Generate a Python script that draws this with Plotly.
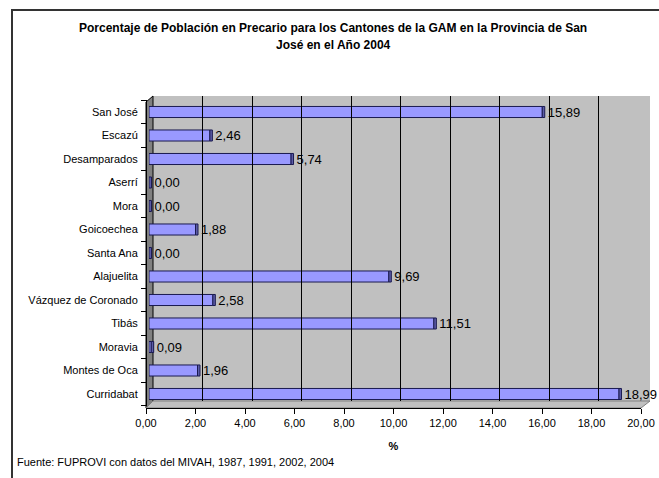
import plotly.graph_objects as go

# Cantones de la GAM, provincia de San José (2004)
cantones = ["San José", "Escazú", "Desamparados", "Aserrí", "Mora", "Goicoechea",
            "Santa Ana", "Alajuelita", "Vázquez de Coronado", "Tibás", "Moravia",
            "Montes de Oca", "Curridabat"]
porcentaje = [15.89, 2.46, 5.74, 0.00, 0.00, 1.88, 0.00, 9.69, 2.58, 11.51, 0.09, 1.96, 18.99]
x_ticks = [0, 2, 4, 6, 8, 10, 12, 14, 16, 18, 20]

W, H = 659, 478
FONT = "Liberation Sans, Arial, sans-serif"
CAP = 0.1  # depth of the bar end face, in axis units


def px(x):
    return x / W


def py(y):
    return 1 - y / H


idx = list(range(len(cantones)))

fig = go.Figure()

# bar front faces
fig.add_trace(go.Bar(
    x=porcentaje, y=idx, orientation="h",
    width=0.47,
    marker=dict(color="#9999FF", line=dict(color="#1a1a50", width=1)),
    hoverinfo="skip", xaxis="x", yaxis="y",
))

# bar end faces, carrying the value labels
fig.add_trace(go.Bar(
    x=[CAP] * len(porcentaje), base=porcentaje, y=idx, orientation="h",
    width=0.47,
    marker=dict(color="#5c5ca8", line=dict(color="#1a1a50", width=1)),
    customdata=porcentaje,
    texttemplate="%{customdata:.2f}", textposition="outside", constraintext="none",
    textfont=dict(family=FONT, size=13, color="#000000"),
    cliponaxis=False, hoverinfo="skip", xaxis="x", yaxis="y",
))

# empty traces so the value axis and the back-wall grid get their own subplots
fig.add_trace(go.Scatter(x=[], y=[], xaxis="x2", yaxis="y2", hoverinfo="skip"))
fig.add_trace(go.Scatter(x=[], y=[], xaxis="x3", yaxis="y3", hoverinfo="skip"))

shapes = [
    # back wall
    dict(type="rect", xref="paper", yref="paper", layer="below",
         x0=px(153), x1=px(650), y0=py(401), y1=py(96),
         fillcolor="#C0C0C0", line=dict(width=0)),
    # side wall
    dict(type="path", xref="paper", yref="paper", layer="below",
         path=f"M {px(146)} {py(102)} L {px(153)} {py(96)} L {px(153)} {py(401)} L {px(146)} {py(408)} Z",
         fillcolor="#808080", line=dict(color="#000000", width=1)),
    # floor
    dict(type="path", xref="paper", yref="paper", layer="below",
         path=f"M {px(146)} {py(408)} L {px(153)} {py(401)} L {px(650)} {py(401)} L {px(641)} {py(408)} Z",
         fillcolor="#C0C0C0", line=dict(color="#808080", width=1)),
    # chart frame (top and left edges)
    dict(type="line", xref="paper", yref="paper",
         x0=px(11), x1=1, y0=py(10), y1=py(10),
         line=dict(color="#333333", width=2)),
    dict(type="line", xref="paper", yref="paper",
         x0=px(12), x1=px(12), y0=py(9), y1=0,
         line=dict(color="#333333", width=2)),
]

fig.update_layout(
    width=W, height=H,
    margin=dict(l=0, r=0, t=0, b=0, pad=0, autoexpand=False),
    paper_bgcolor="#FFFFFF", plot_bgcolor="rgba(0,0,0,0)",
    separators=",.",
    showlegend=False,
    barmode="overlay",
    font=dict(family=FONT, size=11, color="#000000"),
    # bars plane
    xaxis=dict(domain=[px(149), px(644)], range=[0, 20], showgrid=False, zeroline=False,
               showticklabels=False, ticks="", anchor="y", fixedrange=True, automargin=False),
    yaxis=dict(domain=[py(405.75), py(100.25)], range=[12.5, -0.5],
               tickvals=idx, ticktext=cantones, ticks="", ticklabelstandoff=6,
               showgrid=False, zeroline=False, showline=True, linecolor="#000000", linewidth=1,
               anchor="free", position=px(146), automargin=False,
               minor=dict(tickvals=[i - 0.5 for i in range(len(cantones) + 1)],
                          ticks="outside", ticklen=5, tickcolor="#000000"),
               tickfont=dict(size=11)),
    # front floor edge with value axis
    xaxis2=dict(domain=[px(146), px(641)], range=[0, 20], anchor="y2", automargin=False,
                tickvals=x_ticks, tickformat=".2f", ticks="outside", ticklen=5,
                tickcolor="#000000", showline=True, linecolor="#000000", linewidth=1,
                showgrid=False, zeroline=False, tickfont=dict(size=11),
                title=dict(text="<b>%</b>", standoff=14, font=dict(size=11))),
    yaxis2=dict(domain=[py(408), py(100)], range=[0, 1], visible=False, anchor="x2",
                automargin=False),
    # back wall gridlines
    xaxis3=dict(domain=[px(153), px(648)], range=[0, 20], anchor="y3", automargin=False,
                tickvals=x_ticks, showgrid=True, gridcolor="#000000", gridwidth=1,
                showticklabels=False, ticks="", zeroline=False, showline=False, layer="below traces"),
    yaxis3=dict(domain=[py(401), py(96)], range=[0, 1], visible=False, anchor="x3",
                automargin=False),
    shapes=shapes,
    annotations=[
        dict(text="<b>Porcentaje de Población en Precario para los Cantones de la GAM en la Provincia de San</b>",
             xref="paper", yref="paper", x=px(333), y=py(28), xanchor="center", yanchor="middle",
             showarrow=False,
             font=dict(family="Liberation Sans Narrow, Arial Narrow, Liberation Sans, Arial", size=12)),
        dict(text="<b>José en el Año 2004</b>",
             xref="paper", yref="paper", x=px(333), y=py(45), xanchor="center", yanchor="middle",
             showarrow=False,
             font=dict(family="Liberation Sans Narrow, Arial Narrow, Liberation Sans, Arial", size=12)),
        dict(text="Fuente: FUPROVI con datos del MIVAH, 1987, 1991, 2002, 2004",
             xref="paper", yref="paper", x=px(15), y=py(462),
             xanchor="left", yanchor="middle", showarrow=False,
             font=dict(family=FONT, size=11)),
    ],
)

fig.write_html("out.html")
